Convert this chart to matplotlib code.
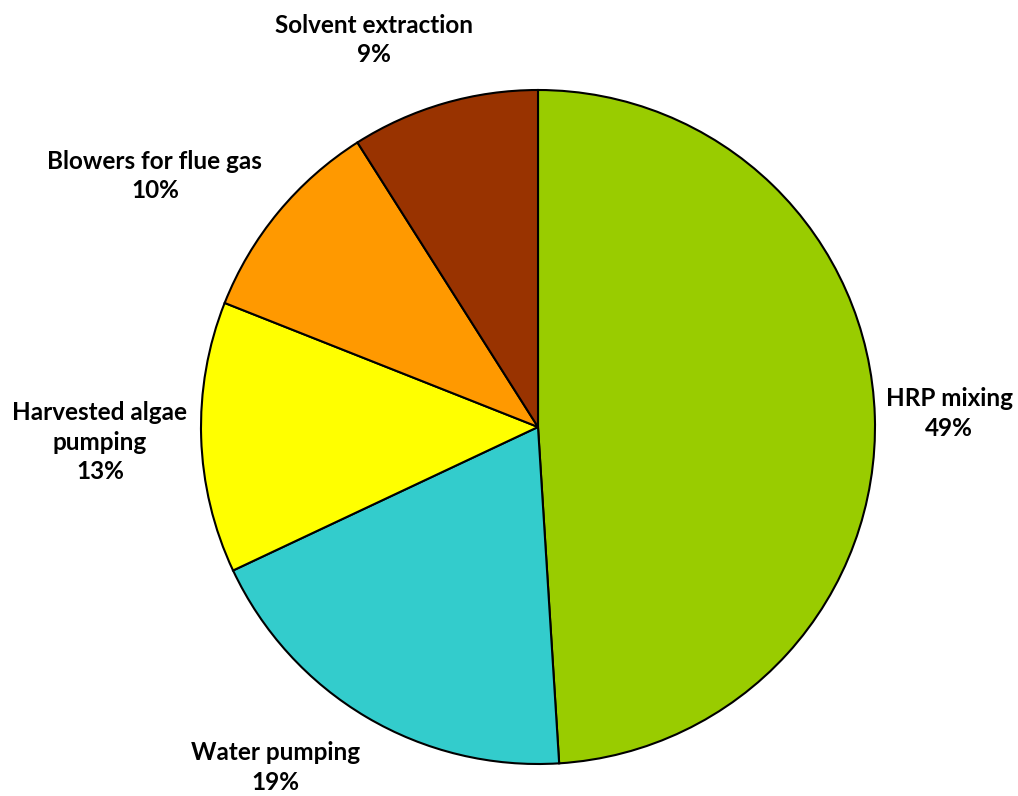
import matplotlib
matplotlib.use("Agg")
import matplotlib.pyplot as plt

# Energy share of each process step
categories = ["HRP mixing", "Water pumping", "Harvested algae\npumping",
              "Blowers for flue gas", "Solvent extraction"]
shares = [49, 19, 13, 10, 9]
colors = ["#99CC00", "#33CCCC", "#FFFF00", "#FF9900", "#993300"]

# Label anchor points (in units of pie radius)
label_xy = [(1.22, 0.04), (-0.78, -1.01), (-1.30, -0.045),
            (-1.137, 0.745), (-0.487, 1.148)]

W, H = 1018, 796
fig = plt.figure(figsize=(W / 100, H / 100), dpi=100)
cx, cy, r = 538, 427, 337
ax = fig.add_axes([(cx - r) / W, 1 - (cy + r) / H, 2 * r / W, 2 * r / H])

ax.pie(shares, colors=colors, startangle=90, counterclock=False, radius=1,
       wedgeprops=dict(edgecolor="black", linewidth=1.5))
ax.set_xlim(-1, 1)
ax.set_ylim(-1, 1)
ax.set_aspect("equal")
ax.axis("off")

for name, val, (x, y) in zip(categories, shares, label_xy):
    ax.text(x, y, f"{name}\n{val}%", ha="center", va="center",
            fontsize=17.5, fontweight="bold", family="Lato",
            linespacing=1.35, clip_on=False)

fig.savefig("out.png", dpi=100)
